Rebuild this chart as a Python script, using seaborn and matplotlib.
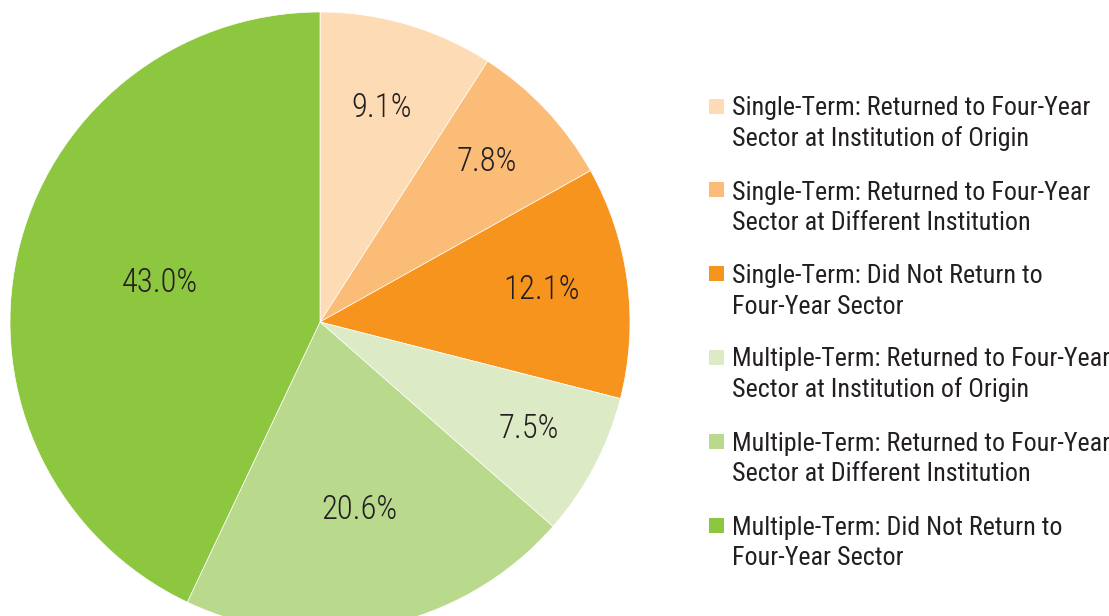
import numpy as np
import matplotlib
matplotlib.use("Agg")
import matplotlib.pyplot as plt
import seaborn as sns
from matplotlib.patches import Rectangle

sns.set_theme(style="white")
plt.rcParams['font.family'] = ['Roboto Condensed', 'Liberation Sans Narrow', 'Roboto', 'DejaVu Sans']

# Data
labels = [
    "Single-Term: Returned to Four-Year\nSector at Institution of Origin",
    "Single-Term: Returned to Four-Year\nSector at Different Institution",
    "Single-Term: Did Not Return to\nFour-Year Sector",
    "Multiple-Term: Returned to Four-Year\nSector at Institution of Origin",
    "Multiple-Term: Returned to Four-Year\nSector at Different Institution",
    "Multiple-Term: Did Not Return to\nFour-Year Sector",
]
shares = [9.1, 7.8, 12.1, 7.5, 20.6, 43.0]
colors = ["#FDDBB4", "#FBBC78", "#F7941E", "#DCEBC5", "#B9DA8C", "#8DC63F"]
# how far from the centre each percentage label sits (fraction of radius)
label_r = [0.71, 0.74, 0.72, 0.76, 0.63, 0.53]

fig = plt.figure(figsize=(11.09, 6.16), dpi=100)
W, H = 1109, 616
cx, cy, r = 320, 322, 310
ax = fig.add_axes([(cx - r) / W, (H - cy - r) / H, 2 * r / W, 2 * r / H])

wedges, _ = ax.pie(shares, colors=colors, startangle=90, counterclock=False,
                   radius=1, wedgeprops=dict(edgecolor="white", linewidth=0.5))
ax.set_xlim(-1, 1)
ax.set_ylim(-1, 1)
ax.set_aspect("equal")
ax.axis("off")

for w, val, d in zip(wedges, shares, label_r):
    mid = np.deg2rad((w.theta1 + w.theta2) / 2)
    ax.text(d * np.cos(mid), d * np.sin(mid) + 0.01, f"{val:.1f}%", ha="center", va="center",
            fontsize=23.5, fontweight="light", color="#231F20")

# Manual legend, square aligned with first line of each entry
y0, step = 106, 83.8
for i, (lab, col) in enumerate(zip(labels, colors)):
    yc = y0 + i * step
    fig.patches.append(Rectangle((709 / W, (H - yc - 7.5) / H), 15 / W, 15 / H,
                                 transform=fig.transFigure, facecolor=col, edgecolor="none"))
    # baseline alignment refers to the last line of the two-line label
    fig.text(732 / W, (H - yc - 40) / H, lab, ha="left", va="baseline", fontsize=18.7,
             color="#231F20", linespacing=1.33)

fig.savefig("out.png", dpi=100)
